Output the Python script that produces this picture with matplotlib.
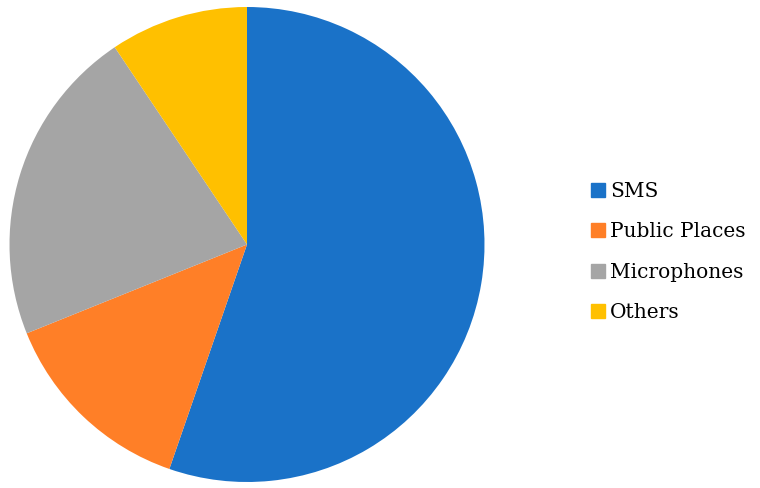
import matplotlib
matplotlib.use("Agg")
import matplotlib.pyplot as plt
from matplotlib.lines import Line2D

# ----------------------------------------
# Data
# ----------------------------------------
labels = ["SMS", "Public Places", "Microphones", "Others"]
shares = [55.3, 13.6, 21.7, 9.4]
colors = ["#1A72C8", "#FF7F27", "#A5A5A5", "#FFC000"]

W, H = 760, 488
fig = plt.figure(figsize=(W / 100, H / 100), dpi=100)

# pie axes placed so the circle sits at (247, 244.5) px with radius 237.5
cx, cy, r = 247, 244.5, 237.5
ax = fig.add_axes([(cx - r) / W, (H - cy - r) / H, 2 * r / W, 2 * r / H])
ax.pie(shares, colors=colors, startangle=90, counterclock=False,
       radius=1.0, wedgeprops=dict(linewidth=0))
ax.set_xlim(-1, 1)
ax.set_ylim(-1, 1)
ax.set_aspect("equal")
ax.axis("off")

# legend on the right
handles = [Line2D([0], [0], marker="s", linestyle="", markersize=9.4,
                  markerfacecolor=c, markeredgecolor=c) for c in colors]
fig.legend(handles, labels, loc="center left",
           bbox_to_anchor=(581.5 / W, 1 - 252 / H), frameon=False,
           prop={"family": "DejaVu Serif", "size": 14.5},
           handlelength=0.8, handletextpad=0.22, labelspacing=1.07,
           borderaxespad=0)

fig.savefig("out.png", dpi=100)
